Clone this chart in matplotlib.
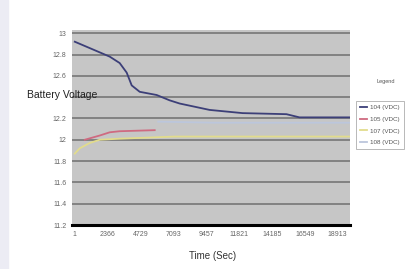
import matplotlib
matplotlib.use('Agg')
import matplotlib.pyplot as plt
from matplotlib.patches import Rectangle

plt.rcParams['font.family'] = ['Liberation Sans', 'DejaVu Sans']

# time (sec) / voltage readings
t_104 = [1, 1080, 2515, 3230, 3735, 4095, 4670, 5890, 6825, 7545, 9700, 12070, 15230, 16165, 19755]
v_104 = [12.92, 12.86, 12.78, 12.72, 12.63, 12.51, 12.45, 12.42, 12.37, 12.34, 12.28, 12.25, 12.24, 12.21, 12.21]

t_105 = [720, 1800, 2515, 3230, 5750]
v_105 = [12.00, 12.04, 12.07, 12.08, 12.09]

t_107 = [1, 360, 1080, 1800, 3230, 7180, 19755]
v_107 = [11.87, 11.92, 11.97, 12.00, 12.01, 12.03, 12.03]

t_108 = [6000, 10000, 19755]
v_108 = [12.17, 12.16, 12.16]

xticks = [1, 2366, 4729, 7093, 9457, 11821, 14185, 16549, 18913]
yticks = [11.2, 11.4, 11.6, 11.8, 12, 12.2, 12.4, 12.6, 12.8, 13]
# 12.4 is hidden behind the axis title in the original
ytick_labels = ['11.2', '11.4', '11.6', '11.8', '12', '12.2', '', '12.6', '12.8', '13']

fig = plt.figure(figsize=(4.18, 2.69), dpi=100)
fig.patches.append(Rectangle((0, 0), 8 / 418, 1, transform=fig.transFigure,
                             color='#ececf4', zorder=0))
ax = fig.add_axes([72 / 418, 1 - 225 / 269, (350 - 72) / 418, (225 - 30) / 269])
ax.set_facecolor('#c6c6c6')

ax.plot(t_107, v_107, color='#e2dc8c', lw=1.3, label='107 (VDC)')
ax.plot(t_108, v_108, color='#bcc6dc', lw=1.3, label='108 (VDC)')
ax.plot(t_105, v_105, color='#cf6a80', lw=1.3, label='105 (VDC)')
ax.plot(t_104, v_104, color='#3c3f78', lw=1.3, label='104 (VDC)')

ax.set_xlim(-200, 19800)
ax.set_ylim(11.2, 13.03)
ax.set_yticks(yticks)
ax.set_yticklabels(ytick_labels)
ax.set_xticks(xticks)
ax.tick_params(length=0, labelsize=5, labelcolor='#666666', pad=4)
ax.yaxis.grid(True, color='#7c7c7c', lw=1.3)
ax.set_axisbelow(True)
for s in ['top', 'right', 'left']:
    ax.spines[s].set_visible(False)
ax.spines['bottom'].set_color('black')
ax.spines['bottom'].set_linewidth(2.2)

fig.text(62 / 418, 1 - 95 / 269, 'Battery Voltage', fontsize=7.5, ha='center', va='center',
         color='#222222')
fig.text(213 / 418, 1 - 256 / 269, 'Time (Sec)', fontsize=7, ha='center', va='center',
         color='#333333')
fig.text(386 / 418, 1 - 82 / 269, 'Legend', fontsize=4, ha='center', va='center',
         color='#555555')

h, l = ax.get_legend_handles_labels()
order = [3, 2, 0, 1]
leg = fig.legend([h[i] for i in order], [l[i] for i in order], loc='upper left',
                 bbox_to_anchor=(353 / 418, 1 - 98 / 269), fontsize=4.5, frameon=True,
                 fancybox=False, edgecolor='#999999', handlelength=1.2, borderpad=0.6,
                 labelspacing=1.0, handletextpad=0.5, labelcolor='#555555')
leg.get_frame().set_linewidth(0.6)

fig.savefig('out.png', dpi=100)
